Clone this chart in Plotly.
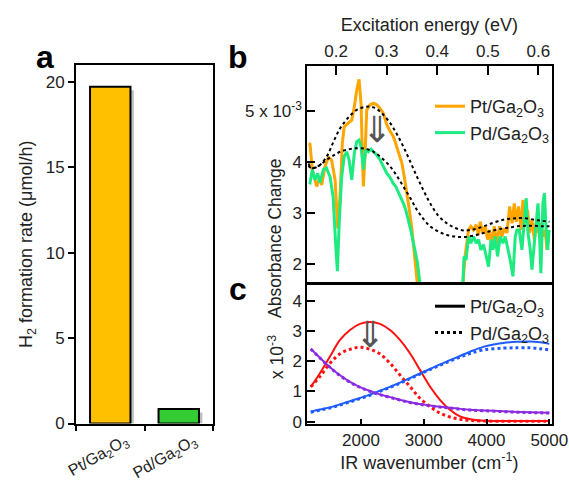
import plotly.graph_objects as go

W, H = 569, 482
def px(x): return x / W
def py(y): return 1 - y / H

# ---------------- Panel a data ----------------
cats = ["Pt/Ga<sub>2</sub>O<sub>3</sub>", "Pd/Ga<sub>2</sub>O<sub>3</sub>"]
rates = [19.7, 0.85]
bar_colors = ["#FFC000", "#33CC33"]

# ---------------- Panel b data (eV, absorbance x1e-3) ----------------
pt_b_x1 = [0.146, 0.1483, 0.153, 0.1616, 0.168, 0.1715, 0.178, 0.1846, 0.191, 0.198, 0.2032, 0.2077,
           0.2123, 0.216, 0.224, 0.231, 0.236, 0.2408, 0.2454, 0.2493, 0.2519, 0.2539, 0.2573, 0.2606,
           0.2671, 0.2737, 0.2804, 0.287, 0.2935, 0.300, 0.3068, 0.313, 0.3166, 0.323, 0.330, 0.335,
           0.340, 0.345, 0.350, 0.356, 0.3608]
pt_b_y1 = [4.37, 4.35, 3.85, 3.52, 3.71, 3.55, 3.91, 4.09, 4.04, 3.65, 2.70, 3.32,
           4.37, 4.69, 4.76, 4.82, 5.08, 5.41, 5.62, 5.15, 4.17, 3.52, 4.17, 5.02,
           5.12, 5.15, 5.12, 5.05, 4.95, 4.73, 4.60, 4.50, 4.40, 4.20, 3.98, 3.70,
           3.40, 3.05, 2.67, 2.08, 1.60]
pt_b_x2 = [0.4507, 0.455, 0.462, 0.4666, 0.4717, 0.477, 0.4816, 0.485, 0.4903, 0.495, 0.4995, 0.5034,
           0.508, 0.5127, 0.518, 0.5232, 0.528, 0.5326, 0.538, 0.5432, 0.548, 0.5524, 0.5563, 0.561,
           0.5656, 0.5696, 0.574, 0.5787, 0.5826, 0.5873, 0.592, 0.596, 0.6004, 0.605, 0.609, 0.6137,
           0.617, 0.620]
pt_b_y2 = [1.60, 2.15, 2.67, 2.74, 2.67, 2.77, 2.57, 2.83, 2.61, 2.74, 2.48, 2.67,
           2.38, 2.74, 2.41, 2.74, 2.54, 2.70, 2.61, 3.13, 2.80, 3.19, 2.83, 3.13,
           2.67, 3.26, 2.80, 3.06, 2.61, 2.87, 2.48, 2.83, 2.61, 2.80, 2.54, 2.67,
           2.28, 2.57]

pd_b_x1 = [0.146, 0.1483, 0.153, 0.158, 0.1636, 0.168, 0.1747, 0.181, 0.188, 0.194, 0.199, 0.2025, 0.2064,
           0.211, 0.216, 0.221, 0.2256, 0.231, 0.236, 0.2408, 0.2454, 0.2493, 0.2539, 0.2587, 0.264,
           0.2692, 0.2737, 0.2804, 0.287, 0.2935, 0.300, 0.3066, 0.313, 0.318, 0.323, 0.328, 0.333,
           0.338, 0.343, 0.348, 0.353, 0.357, 0.361, 0.366]
pd_b_y1 = [3.60, 3.59, 3.85, 3.65, 3.78, 3.59, 3.85, 3.88, 3.71, 3.32, 2.41, 1.86, 2.87,
           3.71, 4.11, 4.20, 4.04, 3.65, 4.17, 4.40, 4.43, 4.30, 3.85, 4.24, 4.20,
           4.25, 4.20, 4.14, 4.04, 3.91, 3.78, 3.70, 3.58, 3.52, 3.42, 3.32, 3.19,
           3.05, 2.87, 2.65, 2.41, 2.22, 2.02, 1.60]
pd_b_x2 = [0.4507, 0.453, 0.457, 0.462, 0.4666, 0.4717, 0.477, 0.4816, 0.4864, 0.4915, 0.497, 0.5015,
           0.5064, 0.5103, 0.5147, 0.5193, 0.5245, 0.530, 0.5345, 0.539, 0.5444, 0.5497, 0.5543, 0.5577,
           0.5622, 0.5675, 0.572, 0.576, 0.5795, 0.584, 0.5873, 0.592, 0.596, 0.5993, 0.6024, 0.605,
           0.609, 0.612, 0.615, 0.6185, 0.6213]
pd_b_y2 = [1.60, 2.15, 2.08, 2.54, 2.41, 2.54, 2.41, 2.48, 2.28, 2.38, 2.15, 1.95,
           2.48, 2.28, 2.54, 2.15, 2.54, 2.41, 2.54, 2.35, 2.08, 1.76, 2.54, 2.67,
           2.67, 2.28, 2.74, 3.29, 2.61, 2.28, 1.89, 2.41, 2.74, 3.19, 2.54, 1.82,
           3.19, 3.39, 2.74, 2.28, 2.67]

fit_x = [0.145, 0.152, 0.165, 0.181, 0.195, 0.208, 0.225, 0.241, 0.258, 0.274, 0.290, 0.307, 0.320,
         0.333, 0.347, 0.360, 0.373, 0.386, 0.402, 0.419, 0.435, 0.452, 0.472, 0.492, 0.511, 0.531,
         0.545, 0.558, 0.575, 0.591, 0.606, 0.622]
fit_pt = [3.92, 3.88, 3.92, 4.10, 4.40, 4.66, 4.88, 5.02, 5.08, 5.07, 4.96, 4.76, 4.55,
          4.30, 4.00, 3.71, 3.44, 3.19, 2.95, 2.80, 2.71, 2.66, 2.68, 2.74, 2.81, 2.87,
          2.89, 2.90, 2.90, 2.87, 2.85, 2.83]
fit_pd = [3.97, 3.88, 3.92, 4.04, 4.13, 4.20, 4.25, 4.27, 4.26, 4.20, 4.08, 3.91, 3.73,
          3.52, 3.29, 3.06, 2.88, 2.74, 2.64, 2.57, 2.54, 2.53, 2.56, 2.61, 2.66, 2.70,
          2.72, 2.74, 2.75, 2.75, 2.74, 2.74]

# ---------------- Panel c data (cm-1, x1e-3) ----------------
wn = [1200, 1347, 1506, 1666, 1825, 1984, 2143, 2302, 2462, 2621, 2780, 2940, 3099, 3258,
      3417, 3577, 3736, 3948, 4266, 4500, 4692, 4850, 5000]
red_pt = [1.15, 1.60, 2.15, 2.70, 3.03, 3.23, 3.29, 3.23, 3.03, 2.70, 2.26, 1.71, 1.16, 0.72,
          0.39, 0.17, 0.08, 0.03, 0.02, 0.02, 0.02, 0.02, 0.02]
red_pd = [1.15, 1.49, 1.93, 2.24, 2.39, 2.46, 2.39, 2.24, 1.93, 1.54, 1.16, 0.77, 0.50, 0.28,
          0.15, 0.08, 0.04, 0.02, 0.01, 0.01, 0.01, 0.01, 0.01]
blue_pt = [0.33, 0.40, 0.47, 0.57, 0.67, 0.78, 0.89, 1.02, 1.15, 1.29, 1.44, 1.59, 1.74, 1.89,
           2.03, 2.17, 2.31, 2.47, 2.60, 2.64, 2.65, 2.62, 2.57]
blue_pd = [0.31, 0.38, 0.45, 0.55, 0.65, 0.76, 0.87, 1.00, 1.13, 1.27, 1.42, 1.57, 1.72, 1.86,
           2.00, 2.13, 2.25, 2.37, 2.43, 2.44, 2.44, 2.41, 2.37]
purple_pt = [2.41, 2.11, 1.80, 1.53, 1.31, 1.14, 1.01, 0.90, 0.81, 0.72, 0.64, 0.58, 0.53, 0.49,
             0.46, 0.42, 0.39, 0.37, 0.34, 0.32, 0.31, 0.30, 0.29]
purple_pd = [2.40, 2.10, 1.79, 1.52, 1.30, 1.13, 1.00, 0.89, 0.80, 0.71, 0.63, 0.57, 0.52, 0.48,
             0.45, 0.41, 0.38, 0.36, 0.33, 0.31, 0.30, 0.29, 0.28]

ORANGE = "#FFA500"
GREEN = "#1EEB7F"
RED = "#FF1010"
BLUE = "#1F5CFF"
PURPLE = "#8A2BE2"
FONT = "Liberation Sans, Arial, sans-serif"
TXT = "#222"

fig = go.Figure()

# Panel a: soft shadow then bars
fig.add_trace(go.Bar(x=cats, y=[v - 0.2 for v in rates], width=0.59, offset=-0.245,
                     marker=dict(color="rgba(0,0,0,0.25)", line=dict(width=0)),
                     xaxis="x", yaxis="y", showlegend=False, hoverinfo="skip"))
fig.add_trace(go.Bar(x=cats, y=rates, marker=dict(color=bar_colors, line=dict(color="black", width=2)),
                     width=0.59, offset=-0.295, xaxis="x", yaxis="y", showlegend=False))

# Panel b
for xs, ys, show in [(pt_b_x1, pt_b_y1, True), (pt_b_x2, pt_b_y2, False)]:
    fig.add_trace(go.Scatter(x=xs, y=ys, mode="lines", line=dict(color=ORANGE, width=3),
                             name="Pt/Ga<sub>2</sub>O<sub>3</sub>", showlegend=show, legend="legend",
                             xaxis="x2", yaxis="y2"))
for xs, ys, show in [(pd_b_x1, pd_b_y1, True), (pd_b_x2, pd_b_y2, False)]:
    fig.add_trace(go.Scatter(x=xs, y=ys, mode="lines", line=dict(color=GREEN, width=3),
                             name="Pd/Ga<sub>2</sub>O<sub>3</sub>", showlegend=show, legend="legend",
                             xaxis="x2", yaxis="y2"))
for ys in [fit_pt, fit_pd]:
    fig.add_trace(go.Scatter(x=fit_x, y=ys, mode="lines", line=dict(color="black", width=2, dash="dot", shape="spline"),
                             showlegend=False, xaxis="x2", yaxis="y2"))

# Panel c
for ys, col in [(red_pt, RED), (blue_pt, BLUE), (purple_pt, PURPLE)]:
    fig.add_trace(go.Scatter(x=wn, y=ys, mode="lines", line=dict(color=col, width=2, shape="spline"),
                             showlegend=False, xaxis="x3", yaxis="y3"))
for ys, col in [(red_pd, RED), (blue_pd, BLUE), (purple_pd, PURPLE)]:
    fig.add_trace(go.Scatter(x=wn, y=ys, mode="lines", line=dict(color=col, width=3, dash="dot", shape="spline"),
                             showlegend=False, xaxis="x3", yaxis="y3"))
fig.add_trace(go.Scatter(x=[None], y=[None], mode="lines", line=dict(color="black", width=3),
                         name="Pt/Ga<sub>2</sub>O<sub>3</sub>", legend="legend2", xaxis="x3", yaxis="y3"))
fig.add_trace(go.Scatter(x=[None], y=[None], mode="lines", line=dict(color="black", width=3, dash="dot"),
                         name="Pd/Ga<sub>2</sub>O<sub>3</sub>", legend="legend2", xaxis="x3", yaxis="y3"))

axis_common = dict(showline=True, linecolor="black", linewidth=2, mirror=True, showgrid=False,
                   zeroline=False, tickfont=dict(size=17, color=TXT), tickcolor="black", tickwidth=2,
                   automargin=False)

fig.update_layout(
    width=W, height=H, margin=dict(l=0, r=0, t=0, b=0, autoexpand=False),
    paper_bgcolor="white", plot_bgcolor="white", barmode="overlay",
    font=dict(family=FONT, color=TXT),
    xaxis=dict(**{**axis_common, "tickfont": dict(size=16, color=TXT)},
               domain=[px(76), px(213)], anchor="y", range=[-0.5, 1.5],
               ticks="outside", ticklen=5, tickson="boundaries", tickangle=-30, ticklabelshift=15),
    yaxis=dict(**axis_common, domain=[py(423.5), py(65)], anchor="x", range=[0, 20.98],
               tickvals=[0, 5, 10, 15, 20], ticks="outside", ticklen=6,
               title=dict(text="H<sub>2</sub> formation rate (μmol/h)", font=dict(size=18), standoff=8)),
    xaxis2=dict(**axis_common, domain=[px(307.3), px(551.5)], anchor="y2", side="top",
                range=[0.143, 0.626], tickvals=[0.2, 0.3, 0.4, 0.5, 0.6], ticks="inside", ticklen=9,
                title=dict(text="Excitation energy (eV)", font=dict(size=18), standoff=6)),
    yaxis2=dict(**axis_common, domain=[py(283), py(66)], anchor="x2", range=[1.63, 5.88],
                tickvals=[2, 3, 4, 5], ticktext=["2", "3", "4", "5 x 10<sup>-3</sup>"],
                ticks="inside", ticklen=8),
    xaxis3=dict(**axis_common, domain=[px(307.3), px(551.5)], anchor="y3", range=[1145, 5035],
                tickvals=[2000, 3000, 4000, 5000], ticks="inside", ticklen=5,
                title=dict(text="IR wavenumber (cm<sup>-1</sup>)", font=dict(size=18), standoff=6)),
    yaxis3=dict(**axis_common, domain=[py(424), py(284)], anchor="x3", range=[-0.08, 4.55],
                tickvals=[0, 1, 2, 3, 4], ticks="inside", ticklen=8),
    legend=dict(x=px(430), y=py(88), xanchor="left", yanchor="top", bgcolor="rgba(0,0,0,0)",
                font=dict(size=18, color=TXT), tracegroupgap=0, itemwidth=30),
    legend2=dict(x=px(430), y=py(288), xanchor="left", yanchor="top", bgcolor="rgba(0,0,0,0)",
                 font=dict(size=18, color=TXT), tracegroupgap=0, itemwidth=30),
    showlegend=True,
)

annots = [
    dict(text="<b>a</b>", x=px(34), y=py(37), font=dict(size=32, color="black")),
    dict(text="<b>b</b>", x=px(238), y=py(37), font=dict(size=32, color="black")),
    dict(text="<b>c</b>", x=px(238), y=py(289), font=dict(size=32, color="black")),
    dict(text="Absorbance Change", x=px(275), y=py(238), textangle=-90, font=dict(size=17.5)),
    dict(text="x 10<sup>-3</sup>", x=px(276), y=py(381), textangle=-90, font=dict(size=17.5)),
]
for a in annots:
    fig.add_annotation(xref="paper", yref="paper", showarrow=False, **a)

fig.add_annotation(xref="x2", yref="y2", x=0.2805, y=4.64, text="⇓", showarrow=False,
                   font=dict(size=36, color="#555", family="DejaVu Sans"))
fig.add_annotation(xref="x3", yref="y3", x=2151, y=2.88, text="⇓", showarrow=False,
                   font=dict(size=36, color="#555", family="DejaVu Sans"))

fig.write_html("out.html")
